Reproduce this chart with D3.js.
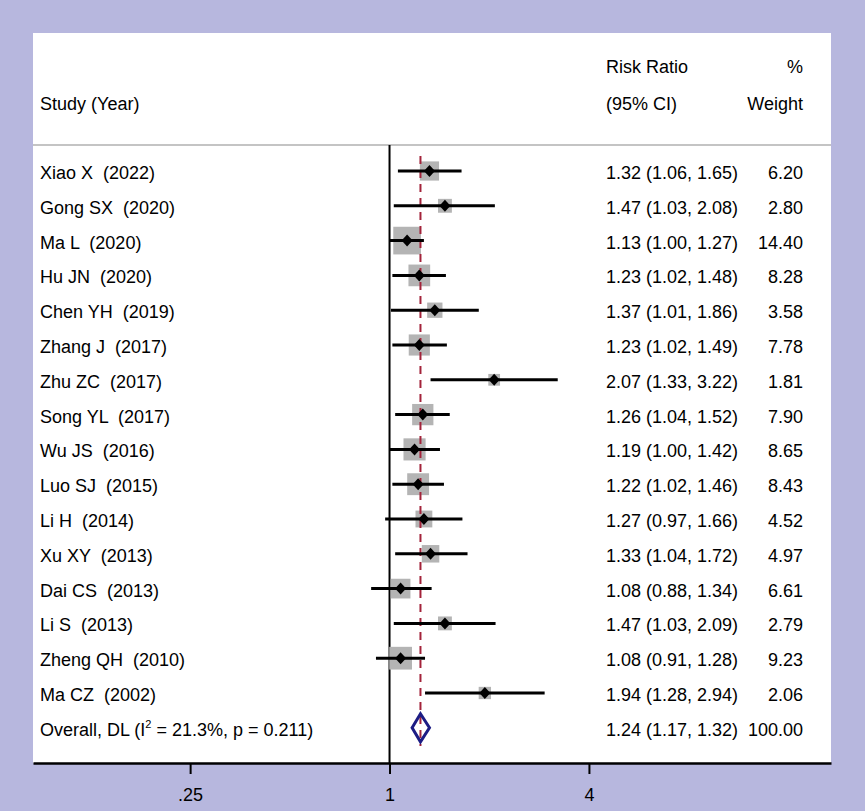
<!DOCTYPE html>
<html><head><meta charset="utf-8">
<script src="https://cdn.jsdelivr.net/npm/d3@7"></script>
<style>body{margin:0;background:#b7b7de}svg{display:block}text{font-family:"Liberation Sans",Arial,sans-serif;white-space:pre}</style>
</head><body><svg id="c" width="865" height="811"></svg>
<script>
const studies = ["Xiao X  (2022)","Gong SX  (2020)","Ma L  (2020)","Hu JN  (2020)","Chen YH  (2019)","Zhang J  (2017)","Zhu ZC  (2017)","Song YL  (2017)","Wu JS  (2016)","Luo SJ  (2015)","Li H  (2014)","Xu XY  (2013)","Dai CS  (2013)","Li S  (2013)","Zheng QH  (2010)","Ma CZ  (2002)"];
const rr    = [1.32,1.47,1.13,1.23,1.37,1.23,2.07,1.26,1.19,1.22,1.27,1.33,1.08,1.47,1.08,1.94];
const lower = [1.06,1.03,1.00,1.02,1.01,1.02,1.33,1.04,1.00,1.02,0.97,1.04,0.88,1.03,0.91,1.28];
const upper = [1.65,2.08,1.27,1.48,1.86,1.49,3.22,1.52,1.42,1.46,1.66,1.72,1.34,2.09,1.28,2.94];
const weight = [6.20,2.80,14.40,8.28,3.58,7.78,1.81,7.90,8.65,8.43,4.52,4.97,6.61,2.79,9.23,2.06];
const overall = {rr:1.24, lower:1.17, upper:1.32, weight:100.00, i2:"21.3%", p:"0.211"};
const tickValues = [0.25,1,4];
const tickLabels = [".25","1","4"];

const svg = d3.select("#c");
const W=865,H=811, pL=33,pT=33,pR=831,pB=763;
svg.append("rect").attr("width",W).attr("height",H).attr("fill","#b7b7de");
svg.append("rect").attr("x",pL).attr("y",pT).attr("width",pR-pL).attr("height",pB-pT).attr("fill","#fff");

const x = d3.scaleLog().base(2).domain([2**(-3.576), 2**(4.428)]).range([pL,pR]);
const rows = studies.concat(["__overall"]);
const y = d3.scalePoint().domain(rows).range([171, 171+34.8*16]);

// header
const fs = 18;
svg.append("text").attr("x",40).attr("y",110).attr("font-size",fs).text("Study (Year)");
svg.append("text").attr("x",606).attr("y",73).attr("font-size",fs).text("Risk Ratio");
svg.append("text").attr("x",606).attr("y",110).attr("font-size",fs).text("(95% CI)");
svg.append("text").attr("x",803).attr("y",73).attr("font-size",fs).attr("text-anchor","end").text("%");
svg.append("text").attr("x",803).attr("y",110).attr("font-size",fs).attr("text-anchor","end").text("Weight");
svg.append("line").attr("x1",pL).attr("x2",pR).attr("y1",145).attr("y2",145).attr("stroke","#c4c4c4").attr("stroke-width",2);

// null line
svg.append("line").attr("x1",x(1)).attr("x2",x(1)).attr("y1",145).attr("y2",pB).attr("stroke","#000").attr("stroke-width",2);

const data = studies.map((s,i)=>({s,rr:rr[i],lo:lower[i],hi:upper[i],w:weight[i]}));

// boxes
svg.append("g").selectAll("rect").data(data).join("rect")
  .attr("x",d=>x(d.rr)-(3+6.5*Math.sqrt(d.w))/2)
  .attr("y",d=>y(d.s)-(3+6.5*Math.sqrt(d.w))/2)
  .attr("width",d=>3+6.5*Math.sqrt(d.w))
  .attr("height",d=>3+6.5*Math.sqrt(d.w))
  .attr("fill","#b4b4b4");

// overall dashed line
svg.append("line").attr("x1",x(overall.rr)).attr("x2",x(overall.rr)).attr("y1",156).attr("y2",746)
  .attr("stroke","#a3233a").attr("stroke-width",2).attr("stroke-dasharray","8,6");

// CIs
svg.append("g").selectAll("line").data(data).join("line")
  .attr("x1",d=>x(d.lo)).attr("x2",d=>x(d.hi)).attr("y1",d=>y(d.s)).attr("y2",d=>y(d.s))
  .attr("stroke","#000").attr("stroke-width",3);
// point diamonds
svg.append("g").selectAll("path").data(data).join("path")
  .attr("d",d=>{const cx=x(d.rr),cy=y(d.s);return `M${cx},${cy-6}L${cx+5.5},${cy}L${cx},${cy+6}L${cx-5.5},${cy}Z`;})
  .attr("fill","#000");

// overall diamond
const oy = y("__overall");
svg.append("path").attr("d",`M${x(overall.lower)},${oy}L${x(overall.rr)},${oy-14}L${x(overall.upper)},${oy}L${x(overall.rr)},${oy+14}Z`)
  .attr("fill","none").attr("stroke","#1c1c84").attr("stroke-width",3);

// text columns
const fmt = d3.format(".2f");
const tg = svg.append("g").attr("font-size",fs);
data.forEach(d=>{
  const yy = y(d.s)+8;
  tg.append("text").attr("x",40).attr("y",yy).text(d.s);
  tg.append("text").attr("x",606).attr("y",yy).text(`${fmt(d.rr)} (${fmt(d.lo)}, ${fmt(d.hi)})`);
  tg.append("text").attr("x",803).attr("y",yy).attr("text-anchor","end").text(fmt(d.w));
});
const ot = tg.append("text").attr("x",40).attr("y",oy+8);
ot.append("tspan").text("Overall, DL (I");
ot.append("tspan").attr("font-size",11).attr("dy",-8).text("2");
ot.append("tspan").attr("dy",8).text(` = ${overall.i2}, p = ${overall.p})`);
tg.append("text").attr("x",606).attr("y",oy+8).text(`${fmt(overall.rr)} (${fmt(overall.lower)}, ${fmt(overall.upper)})`);
tg.append("text").attr("x",803).attr("y",oy+8).attr("text-anchor","end").text(fmt(overall.weight));

// axis
const ax = svg.append("g").attr("transform",`translate(0,${pB})`)
  .call(d3.axisBottom(x).tickValues(tickValues).tickFormat((d,i)=>tickLabels[i]).tickSize(11).tickSizeOuter(0).tickPadding(14));
ax.select(".domain").attr("stroke","#000").attr("stroke-width",2.5);
ax.selectAll(".tick line").attr("stroke","#000").attr("stroke-width",2);
ax.selectAll(".tick text").attr("font-size",fs).attr("font-family","Liberation Sans, Arial, sans-serif").attr("fill","#000");
</script></body></html>
